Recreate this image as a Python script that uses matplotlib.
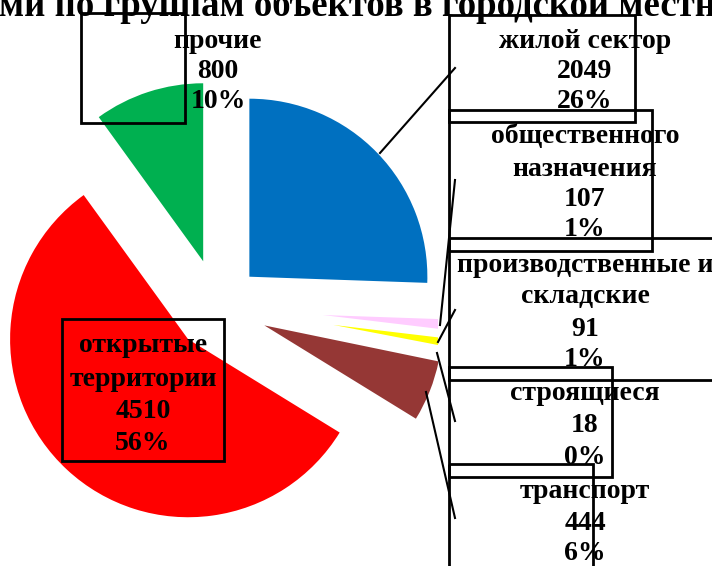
import matplotlib
matplotlib.use("Agg")
import matplotlib.pyplot as plt
from matplotlib.patches import Rectangle

categories = ["жилой сектор", "общественного\nназначения", "производственные и\nскладские",
              "строящиеся", "транспорт", "открытые\nтерритории", "прочие"]
values = [2049, 107, 91, 18, 444, 4510, 800]
percents = ["26%", "1%", "1%", "0%", "6%", "56%", "10%"]
colors = ["#0070C0", "#FFCCFF", "#FFFF00", "#FFFFFF", "#953735", "#FF0000", "#00B050"]
title_text = "ми по группам объектов в городской местности"

W, H = 712, 566
fig = plt.figure(figsize=(W / 100, H / 100), dpi=100)

# pie axes: radius 1 = 178 px, centre at pixel (218, 307)
R, CX, CY = 178.0, 218.0, 307.0
ax = fig.add_axes([0, 0, 1, 1])
explode = [0.245, 0.59, 0.655, 0.62, 0.28, 0.247, 0.27]
wedges, _ = ax.pie(values, explode=explode, colors=colors, startangle=90,
                   counterclock=False, radius=1, center=(0, 0),
                   wedgeprops=dict(linewidth=0))
ax.set_xlim((0 - CX) / R, (W - CX) / R)
ax.set_ylim((CY - H) / R, (CY - 0) / R)
ax.set_aspect("auto")
ax.axis("off")
clip = Rectangle(((0 - CX) / R, (CY - H) / R), (438 - 0) / R, H / R,
                 transform=ax.transData)
for w in wedges:
    w.set_clip_on(True)
    w.set_clip_path(clip)

# overlay axes in pixel coordinates
ov = fig.add_axes([0, 0, 1, 1])
ov.set_xlim(0, W)
ov.set_ylim(H, 0)
ov.axis("off")
ov.patch.set_alpha(0)

font = dict(family="Liberation Serif", fontweight="bold", color="black")
fs = 20

# title (cropped)
ov.text(-1, 16, title_text, fontsize=26.5, ha="left", va="baseline", **font)

# boxes: (x0, y0, x1, y1)
boxes = [(449, 15, 635, 122), (449, 110, 652, 251), (449, 238, 760, 380),
         (449, 367, 612, 477), (449, 464, 593, 600), (62, 319, 224, 461),
         (81, 13, 185, 123)]
# text line positions (centre x, list of line centres)
text_pos = [(585, [42, 71, 102]), (585, [136, 169, 200, 230]),
            (585, [266, 297, 329, 359]), (585, [394, 425, 457]),
            (585, [492, 523, 554]), (143, [346, 379, 412, 443]),
            (218, [42, 71, 102])]
for (x0, y0, x1, y1) in boxes:
    ov.add_patch(Rectangle((x0, y0), x1 - x0, y1 - y0, fill=False,
                           edgecolor="black", linewidth=2))
for cat, val, pct, (tx, ys) in zip(categories, values, percents, text_pos):
    lines = cat.split("\n") + [str(val), pct]
    for line, y in zip(lines, ys):
        ov.text(tx, y, line, fontsize=fs, ha="center", va="center", **font)

# leader lines
leaders = [((380, 153), (455, 68)), ((440, 325), (455, 180)),
           ((438, 342), (455, 310)), ((437, 353), (455, 421)),
           ((426, 392), (455, 518))]
for (a, b) in leaders:
    ov.plot([a[0], b[0]], [a[1], b[1]], color="black", linewidth=1.5)

fig.savefig("out.png", dpi=100)
